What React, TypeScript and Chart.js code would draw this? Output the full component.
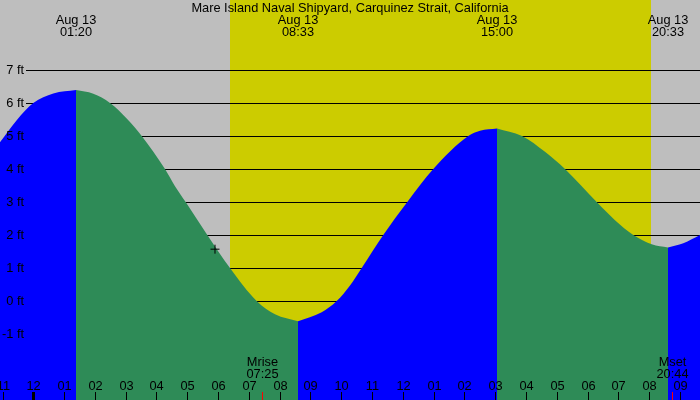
import React, { useEffect, useRef } from 'react';
import { Chart, registerables } from 'chart.js';

Chart.register(...registerables);

// tide heights (ft), hours since midnight Aug 13
const rise1Hours = [-1.0815, -0.539, 0.0, 0.65, 1.3868];
const rise1Feet = [4.81, 5.48, 6.0, 6.29, 6.39];
const fall1Hours = [1.3868, 1.949, 2.491, 3.033, 3.521, 4.277, 4.602, 4.949, 5.651, 6.388, 7.255, 7.85, 8.597];
const fall1Feet = [6.39, 6.28, 6.0, 5.53, 5.0, 4.0, 3.48, 3.0, 2.0, 1.0, 0.0, -0.4, -0.61];
const rise2Hours = [8.597, 9.366, 9.854, 10.286, 10.666, 11.367, 12.147, 12.991, 14.128, 14.508, 15.0602];
const rise2Feet = [-0.61, -0.34, 0.0, 0.47, 1.0, 2.0, 3.0, 4.0, 5.0, 5.16, 5.23];
const fall2Hours = [15.0602, 15.872, 16.619, 17.268, 18.298, 18.892, 19.487, 20.084, 20.6139];
const fall2Feet = [5.23, 5.0, 4.52, 4.0, 3.0, 2.45, 2.0, 1.72, 1.62];
const rise3Hours = [20.6139, 21.111, 21.653];
const rise3Feet = [1.62, 1.75, 2.0];

const nowHour = [5.901];
const nowFeet = [1.57];

const hourTicks = [-1, 0, 1, 2, 3, 4, 5, 6, 7, 8, 9, 10, 11, 12, 13, 14, 15, 16, 17, 18, 19, 20, 21];
const hourLabels = ['11', '12', '01', '02', '03', '04', '05', '06', '07', '08', '09', '10', '11', '12', '01', '02', '03', '04', '05', '06', '07', '08', '09'];
const feetTicks = [-1, 0, 1, 2, 3, 4, 5, 6, 7];

const eventHours = [1.3868, 8.597, 15.0602, 20.6139];
const eventDates = ['Aug 13', 'Aug 13', 'Aug 13', 'Aug 13'];
const eventTimes = ['01:20', '08:33', '15:00', '20:33'];

const moonHours = [7.417, 20.733];
const moonNames = ['Mrise', 'Mset'];
const moonTimes = ['07:25', '20:44'];

const daylight = [6.39, 20.05];

const title = 'Mare Island Naval Shipyard, Carquinez Strait, California';

const RISE = '#0000FF';
const FALL = '#2E8B57';
const FONT = '12.8px "Liberation Sans", Arial, sans-serif';

const pts = (hs: number[], fs: number[]) => hs.map((h, i) => ({ x: h, y: fs[i] }));

const area = (hs: number[], fs: number[], color: string) => ({
  data: pts(hs, fs),
  backgroundColor: color,
  borderColor: 'transparent',
  borderWidth: 0,
  pointRadius: 0,
  fill: 'start',
  cubicInterpolationMode: 'monotone',
  order: 1,
});

const tidePlugin = {
  id: 'tideDecor',
  beforeDraw(chart: any) {
    const { ctx, width, height } = chart;
    const x = chart.scales.x;
    ctx.save();
    ctx.fillStyle = '#BEBEBE';
    ctx.fillRect(0, 0, width, height);
    const x0 = Math.round(x.getPixelForValue(daylight[0]));
    const x1 = Math.round(x.getPixelForValue(daylight[1]));
    ctx.fillStyle = '#CCCC00';
    ctx.fillRect(x0, 0, x1 - x0, height);
    ctx.restore();
  },
  beforeDatasetsDraw(chart: any) {
    const { ctx, width } = chart;
    const y = chart.scales.y;
    ctx.save();
    ctx.strokeStyle = '#000';
    ctx.lineWidth = 1;
    feetTicks.forEach((f) => {
      const py = Math.round(y.getPixelForValue(f)) + 0.5;
      ctx.beginPath();
      ctx.moveTo(26, py);
      ctx.lineTo(width, py);
      ctx.stroke();
    });
    ctx.restore();
  },
  afterDatasetsDraw(chart: any) {
    const { ctx, width, height } = chart;
    const x = chart.scales.x;
    const y = chart.scales.y;
    ctx.save();
    ctx.font = FONT;
    ctx.fillStyle = '#000';

    // y labels
    ctx.textAlign = 'right';
    ctx.textBaseline = 'middle';
    feetTicks.forEach((f) => {
      ctx.fillText(`${f} ft`, 24, y.getPixelForValue(f));
    });

    // hour ticks
    ctx.textAlign = 'center';
    ctx.textBaseline = 'alphabetic';
    hourTicks.forEach((h, i) => {
      const px = Math.round(x.getPixelForValue(h));
      ctx.fillStyle = '#000';
      ctx.fillRect(h === 0 ? px - 1 : px, height - 8, h === 0 ? 3 : 1, 8);
      ctx.fillText(hourLabels[i], px + 0.5, height - 10);
    });

    // moon rise / set
    moonHours.forEach((h, i) => {
      const px = Math.round(x.getPixelForValue(h));
      ctx.fillStyle = '#FF0000';
      ctx.fillRect(px, height - 8, 1, 8);
      ctx.fillStyle = '#000';
      ctx.fillText(moonNames[i], px + 0.5, height - 34);
      ctx.fillText(moonTimes[i], px + 0.5, height - 22);
    });

    // high / low labels
    eventHours.forEach((h, i) => {
      const px = x.getPixelForValue(h);
      ctx.fillText(eventDates[i], px, 24);
      ctx.fillText(eventTimes[i], px, 36);
    });

    ctx.fillText(title, width / 2, 12);
    ctx.restore();
  },
};

const App = () => {
  const canvasRef = useRef<HTMLCanvasElement>(null);

  useEffect(() => {
    if (!canvasRef.current) return;
    document.body.style.margin = '0';

    const chart = new Chart(canvasRef.current, {
      type: 'line',
      data: {
        datasets: [
          {
            data: pts(nowHour, nowFeet),
            showLine: false,
            pointStyle: 'cross',
            pointRadius: 4.5,
            borderColor: '#000',
            borderWidth: 1,
            order: 0,
          },
          area(rise1Hours, rise1Feet, RISE),
          area(fall1Hours, fall1Feet, FALL),
          area(rise2Hours, rise2Feet, RISE),
          area(fall2Hours, fall2Feet, FALL),
          area(rise3Hours, rise3Feet, RISE),
        ] as any,
      },
      options: {
        animation: false,
        responsive: false,
        maintainAspectRatio: false,
        devicePixelRatio: 1,
        layout: { padding: 0, autoPadding: false },
        events: [],
        plugins: {
          legend: { display: false },
          tooltip: { enabled: false },
        },
        scales: {
          x: { type: 'linear', display: false, min: -1.0815, max: 21.653 },
          y: { type: 'linear', display: false, min: -3, max: 9.121 },
        },
      },
      plugins: [tidePlugin],
    });

    return () => {
      chart.destroy();
    };
  }, []);

  return (
    <div style={{ width: 700, height: 400 }}>
      <canvas ref={canvasRef} width={700} height={400} />
    </div>
  );
};

export default App;
